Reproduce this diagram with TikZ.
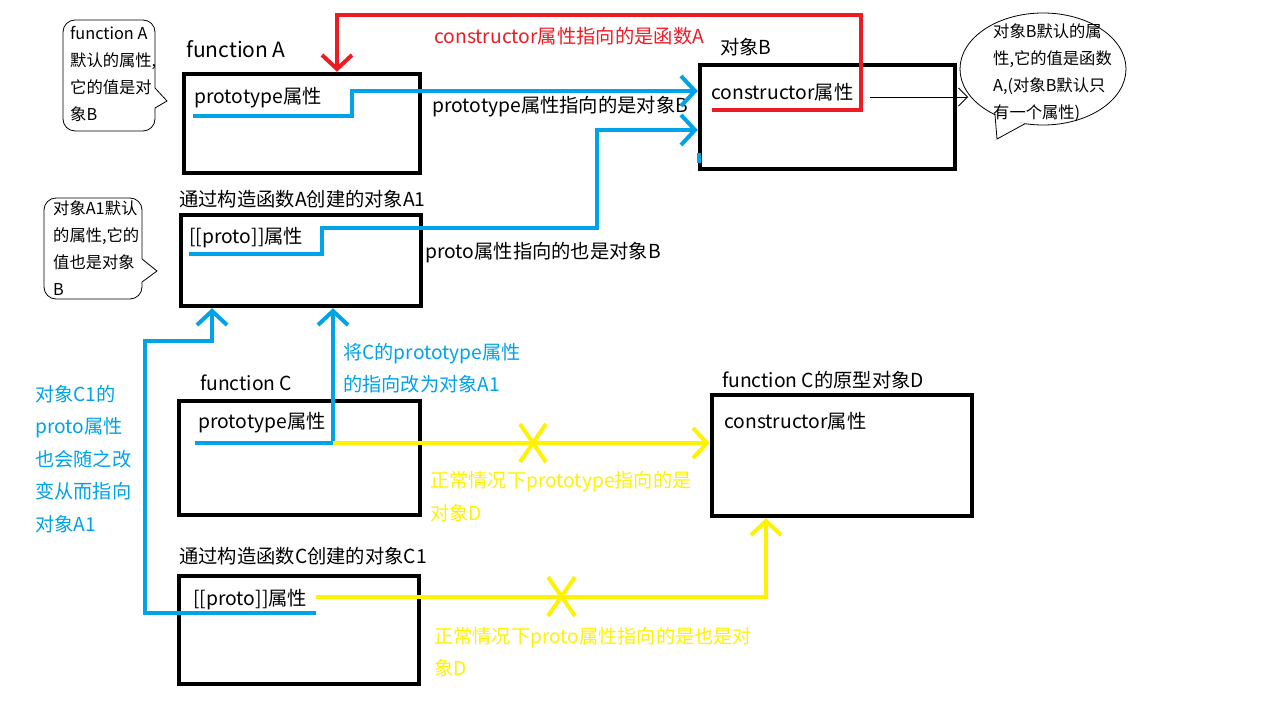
\documentclass[tikz,border=0pt]{standalone}
\usepackage{fontspec}
\setmainfont{Noto Sans CJK SC}
\usetikzlibrary{arrows.meta,calc}
\definecolor{pblue}{HTML}{00A2E8}
\definecolor{pyellow}{HTML}{FFF200}
\definecolor{pred}{HTML}{ED1C24}
\begin{document}
\begin{tikzpicture}[x=1pt,y=-1pt,
  box/.style={draw=black,line width=4.5pt,inner sep=0pt,rectangle},
  lbl/.style={anchor=west,inner sep=0pt,font=\fontsize{19.3}{22}\selectfont},
  ttl/.style={anchor=west,inner sep=0pt,font=\fontsize{21}{24}\selectfont},
  note/.style={anchor=west,inner sep=0pt,align=left,font=\fontsize{16.3}{27}\selectfont},
  ann/.style={anchor=west,inner sep=0pt,align=left,font=\fontsize{19.2}{32.5}\selectfont},
  bl/.style={draw=pblue,line width=4pt},
  yl/.style={draw=pyellow,line width=4pt},
  rd/.style={draw=pred,line width=4pt},
  tip/.style={-{Straight Barb[length=14pt,width=30pt]}},
  thintip/.style={-{Straight Barb[length=9pt,width=18pt]}},
  callout/.style={draw=black,line width=0.8pt}]
\useasboundingbox[fill=white] (0,0) rectangle (1270,714);

% boxes
\node[box,minimum width=236pt,minimum height=99pt] (A) at (302,123.5) {};
\node[box,minimum width=255pt,minimum height=104pt] (B) at (827.5,117) {};
\node[box,minimum width=240pt,minimum height=91pt] (A1) at (301,260.5) {};
\node[box,minimum width=241pt,minimum height=114pt] (C) at (299.5,458) {};
\node[box,minimum width=260pt,minimum height=121pt] (D) at (842,455.5) {};
\node[box,minimum width=240pt,minimum height=108pt] (C1) at (299,630) {};

% titles and labels
\node[ttl] (tA) at (186,49) {function A};
\node[lbl] (pA) at (194,98) {prototype属性};
\node[lbl] (tB) at (720,47) {对象B};
\node[lbl] (cB) at (711,92) {constructor属性};
\node[lbl,text=pred] (redl) at (434,36) {constructor属性指向的是函数A};
\node[lbl] (l1) at (432,107) {prototype属性指向的是对象B};
\node[lbl] (tA1) at (179,199) {通过构造函数A创建的对象A1};
\node[lbl] (pA1) at (189,238) {[[proto]]属性};
\node[lbl] (l2) at (425,253) {proto属性指向的也是对象B};
\node[lbl] (tC) at (200,383) {function C};
\node[lbl] (pC) at (198,423) {prototype属性};
\node[lbl] (tD) at (722,380) {function C的原型对象D};
\node[lbl] (cD) at (724,421) {constructor属性};
\node[lbl] (tC1) at (179,556) {通过构造函数C创建的对象C1};
\node[lbl] (pC1) at (193,600) {[[proto]]属性};
\node[ann,text=pblue] (ann1) at (343,368) {将C的prototype属性\\的指向改为对象A1};
\node[ann,text=pblue] (ann2) at (35,459) {对象C1的\\proto属性\\也会随之改\\变从而指向\\对象A1};
\node[ann,text=pyellow] (ann3) at (430,496.5) {正常情况下prototype指向的是\\对象D};
\node[ann,text=pyellow] (ann4) at (434,652) {正常情况下proto属性指向的是也是对\\象D};

% callouts
\draw[callout,rounded corners=12pt] (155,108) -- (155,131) -- (63,131) -- (63,20) -- (155,20) -- (155,88);
\draw[callout] (155,88) -- (167,101) -- (155,108);
\node[note] (n1) at (70,73.5) {function A\\默认的属性,\\它的值是对\\象B};

\draw[callout,rounded corners=12pt] (142,282) -- (142,299) -- (44,299) -- (44,198) -- (142,198) -- (142,259);
\draw[callout] (142,259) -- (157,271) -- (142,282);
\node[note] (n3) at (53,248) {对象A1默认\\的属性,它的\\值也是对象\\B};

\draw[callout] (1043,69) ellipse [x radius=83, y radius=56];
\fill[white] (995,114.7) -- (997,139) -- (1025,123.7) -- cycle;
\draw[callout] (995,114.7) -- (997,139) -- (1025,123.7);
\node[note] (n2) at (993,73) {对象B默认的属\\性,它的值是函数\\A,(对象B默认只\\有一个属性)};
\coordinate (eL) at (968,97);
\coordinate (sBt) at (870,97);
\draw[line width=0.8pt,thintip] (sBt) -- (eL);

% connector start points
\coordinate (sA) at (193,116);
\coordinate (sA1) at (189,254);
\coordinate (sB) at (712,110);
\coordinate (sC) at (195,443);
\coordinate (jC) at (333,443);
\coordinate (sC1) at (316,613);
\coordinate (sC1y) at (316,597);

% blue connectors
\draw[bl,tip] (sA) -- (352,116) -- (352,91) -- (B.west |- 0,91);
\draw[bl,tip] (sA1) -- (322,254) -- (322,228) -- (597,228) -- (597,130) -- (B.west |- 0,130);
\draw[bl] (699,153) -- (699,163);
\draw[bl,tip] (sC) -- (jC) -- (A1.south -| 333,0);
\draw[bl,tip] (sC1) -- (145,613) -- (145,341) -- (212,341) -- (A1.south -| 212,0);

% red connector
\draw[rd,tip] (sB) -- (861,110) -- (861,15) -- (337,15) -- (A.north -| 337,0);

% yellow connectors
\draw[yl,tip] (jC) -- (D.west |- 0,443);
\draw[yl] (520,424) -- (546,462) (546,424) -- (520,462);
\draw[yl,tip] (sC1y) -- (766,597) -- (D.south -| 766,0);
\draw[yl] (548,577) -- (575,616) (575,577) -- (548,616);
\end{tikzpicture}
\end{document}
